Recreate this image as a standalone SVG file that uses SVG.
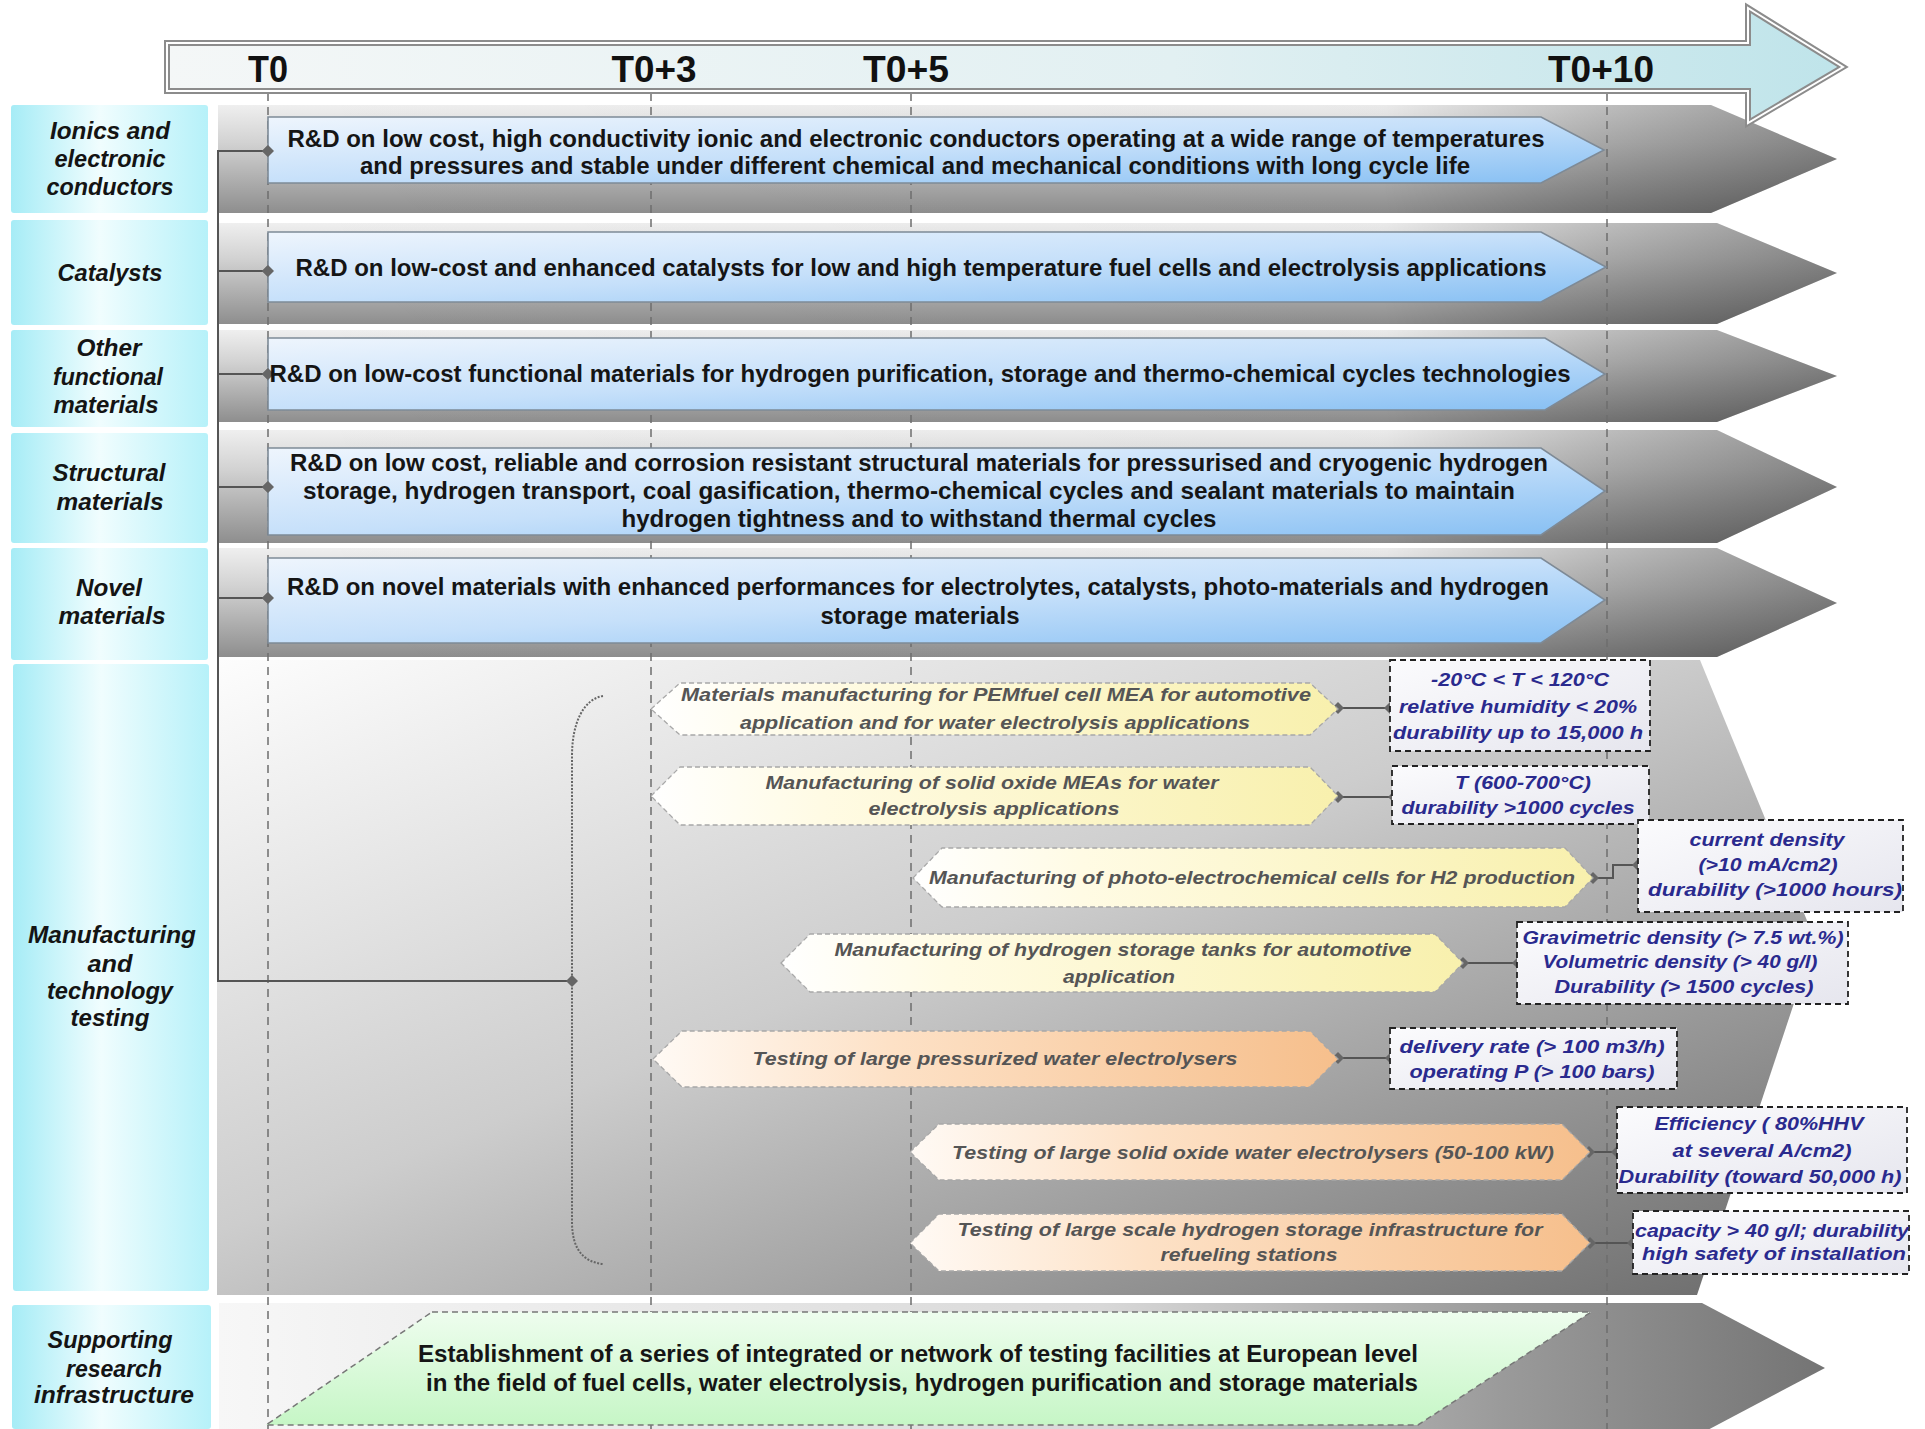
<svg xmlns="http://www.w3.org/2000/svg" width="1925" height="1429" viewBox="0 0 1925 1429">
<defs>
<linearGradient id="gTime" x1="0" y1="0" x2="1" y2="0">
<stop offset="0" stop-color="#f4f7f7"/><stop offset="0.6" stop-color="#e2f0f2"/><stop offset="1" stop-color="#bfe4ea"/>
</linearGradient>
<linearGradient id="gCyan" x1="0" y1="0" x2="1" y2="0">
<stop offset="0" stop-color="#a6ecf6"/><stop offset="0.45" stop-color="#f0fdfe"/><stop offset="1" stop-color="#b6f1f9"/>
</linearGradient>
<linearGradient id="gRow" x1="0" y1="0" x2="0" y2="1">
<stop offset="0" stop-color="#efefef"/><stop offset="0.35" stop-color="#d2d2d2"/><stop offset="1" stop-color="#8e8e8e"/>
</linearGradient>
<linearGradient id="gShade" x1="0" y1="0" x2="1" y2="0">
<stop offset="0" stop-color="#000" stop-opacity="0"/><stop offset="0.72" stop-color="#000" stop-opacity="0.02"/><stop offset="0.85" stop-color="#000" stop-opacity="0.2"/><stop offset="1" stop-color="#000" stop-opacity="0.38"/>
</linearGradient>
<linearGradient id="gBlue" x1="0" y1="0" x2="1" y2="1">
<stop offset="0" stop-color="#eef5fd"/><stop offset="0.5" stop-color="#c6e0fa"/><stop offset="1" stop-color="#86bff3"/>
</linearGradient>
<linearGradient id="gMan" x1="0" y1="0" x2="1" y2="1">
<stop offset="0" stop-color="#fdfdfd"/><stop offset="0.45" stop-color="#cdcdcd"/><stop offset="1" stop-color="#6a6a6a"/>
</linearGradient>
<linearGradient id="gSup" x1="0" y1="0" x2="1" y2="0">
<stop offset="0" stop-color="#f7f7f7"/><stop offset="0.55" stop-color="#d8d8d8"/><stop offset="0.8" stop-color="#9a9a9a"/><stop offset="1" stop-color="#747474"/>
</linearGradient>
<linearGradient id="gYel" x1="0" y1="0" x2="1" y2="0">
<stop offset="0" stop-color="#ffffff"/><stop offset="0.25" stop-color="#fffbe4"/><stop offset="1" stop-color="#f8f0ad"/>
</linearGradient>
<linearGradient id="gOrg" x1="0" y1="0" x2="1" y2="0">
<stop offset="0" stop-color="#fffaf5"/><stop offset="0.35" stop-color="#fde1c6"/><stop offset="1" stop-color="#f6bf8c"/>
</linearGradient>
<linearGradient id="gGreen" x1="0" y1="0" x2="0" y2="1">
<stop offset="0" stop-color="#eefdee"/><stop offset="1" stop-color="#c6f6c6"/>
</linearGradient>
<linearGradient id="gSpec" x1="0" y1="0" x2="1" y2="1">
<stop offset="0" stop-color="#fbfbfd"/><stop offset="1" stop-color="#e6e6ee"/>
</linearGradient>
<marker id="dia" viewBox="0 0 12 12" refX="6" refY="6" markerWidth="12" markerHeight="12" markerUnits="userSpaceOnUse">
<path d="M6,0 L12,6 L6,12 L0,6 Z" fill="#666"/>
</marker>
<style>
.lbl{font-family:"Liberation Sans Narrow","Liberation Sans",Arial,sans-serif;font-style:italic;font-weight:bold;font-size:23px;fill:#141414;text-anchor:middle}
.tl{font-family:"Liberation Sans Narrow","Liberation Sans",Arial,sans-serif;font-weight:bold;font-size:37px;fill:#111;text-anchor:middle}
.rd{font-family:"Liberation Sans Narrow","Liberation Sans",Arial,sans-serif;font-weight:bold;font-size:24px;fill:#151515;text-anchor:middle}
.sub{font-family:"Liberation Sans","Arial",sans-serif;font-style:italic;font-weight:bold;font-size:19px;fill:#555;text-anchor:middle}
.spec{font-family:"Liberation Sans","Arial",sans-serif;font-style:italic;font-weight:bold;font-size:19px;fill:#2a2a8e;text-anchor:middle}
.cyan{fill:url(#gCyan)}
.band{fill:url(#gRow)}
.shade{fill:url(#gShade)}
.blue{fill:url(#gBlue);stroke:#7e8a96;stroke-width:1.6}
.yel{fill:url(#gYel);stroke:#a8a8a8;stroke-width:1.3;stroke-dasharray:5 3}
.org{fill:url(#gOrg);stroke:#a8a8a8;stroke-width:1.3;stroke-dasharray:5 3}
.box{fill:url(#gSpec);stroke:#222;stroke-width:1.8;stroke-dasharray:6 4}
.vd{stroke:#6e6e6e;stroke-width:1.5;stroke-dasharray:8 6;fill:none}
.cn{stroke:#555;stroke-width:2;fill:none}
.cnd{stroke:#555;stroke-width:2;fill:none;marker-start:url(#dia);marker-end:url(#dia)}
</style>
</defs>
<rect width="1925" height="1429" fill="#ffffff"/>

<!-- left label column -->
<g id="labels">
<rect class="cyan" x="11" y="105" width="197" height="108" rx="3"/>
<rect class="cyan" x="11" y="220" width="197" height="105" rx="3"/>
<rect class="cyan" x="11" y="330" width="197" height="97" rx="3"/>
<rect class="cyan" x="11" y="433" width="197" height="110" rx="3"/>
<rect class="cyan" x="11" y="548" width="197" height="112" rx="3"/>
<rect class="cyan" x="13" y="664" width="196" height="627" rx="3"/>
<rect class="cyan" x="12" y="1305" width="199" height="124" rx="3"/>
</g>

<!-- row bands -->
<g id="bands">
<path class="band" d="M218,105 H1711 L1837,159 L1711,213 H218 Z"/>
<path class="shade" d="M218,105 H1711 L1837,159 L1711,213 H218 Z"/>
<path class="band" d="M218,223 H1717 L1837,273 L1717,324 H218 Z"/>
<path class="shade" d="M218,223 H1717 L1837,273 L1717,324 H218 Z"/>
<path class="band" d="M218,330 H1717 L1837,376 L1717,422 H218 Z"/>
<path class="shade" d="M218,330 H1717 L1837,376 L1717,422 H218 Z"/>
<path class="band" d="M218,430 H1717 L1837,487 L1717,543 H218 Z"/>
<path class="shade" d="M218,430 H1717 L1837,487 L1717,543 H218 Z"/>
<path class="band" d="M218,548 H1717 L1837,603 L1717,657 H218 Z"/>
<path class="shade" d="M218,548 H1717 L1837,603 L1717,657 H218 Z"/>
<path fill="url(#gMan)" d="M217,660 H1700 L1815,940 L1697,1295 H217 Z"/>
<path fill="url(#gSup)" d="M219,1303 H1702 L1825,1368 L1702,1433 H219 Z"/>
</g>

<!-- timeline grid -->
<g id="grid">
<line class="vd" x1="268" y1="93" x2="268" y2="1429"/>
<line class="vd" x1="651" y1="93" x2="651" y2="1429"/>
<line class="vd" x1="911" y1="93" x2="911" y2="1429"/>
<line class="vd" x1="1607" y1="93" x2="1607" y2="1429"/>
</g>

<!-- timeline arrow -->
<g id="timeline">
<path d="M167,43 H1748 V8 L1843,67 L1748,123 V91 H167 Z" fill="url(#gTime)" stroke="#8c8c8c" stroke-width="6" stroke-linejoin="miter"/>
<path d="M167,43 H1748 V8 L1843,67 L1748,123 V91 H167 Z" fill="none" stroke="#ffffff" stroke-width="2"/>
<text class="tl" x="268" y="82" textLength="40" lengthAdjust="spacingAndGlyphs">T0</text>
<text class="tl" x="654" y="82" textLength="85" lengthAdjust="spacingAndGlyphs">T0+3</text>
<text class="tl" x="906" y="82" textLength="86" lengthAdjust="spacingAndGlyphs">T0+5</text>
<text class="tl" x="1601" y="82" textLength="106" lengthAdjust="spacingAndGlyphs">T0+10</text>
</g>

<!-- connectors -->
<g id="connectors">
<path class="cn" d="M268,151 H218 V981 H572"/>
<path class="cn" d="M218,271 H268"/>
<path class="cn" d="M218,374 H268"/>
<path class="cn" d="M218,487 H268"/>
<path class="cn" d="M218,598 H268"/>
<path d="M603,696 C584,699 572,722 572,756 V1222 C572,1250 584,1262 603,1264" fill="none" stroke="#666" stroke-width="2" stroke-dasharray="2 1.5"/>
<path class="cnd" d="M1338,708 H1390"/>
<path class="cnd" d="M1338,797 H1394"/>
<path class="cnd" d="M1593,878 H1613 V865 H1638"/>
<path class="cnd" d="M1463,963 H1518"/>
<path class="cnd" d="M1338,1058 H1391"/>
<path class="cnd" d="M1589,1152 H1617"/>
<path class="cnd" d="M1590,1243 H1633"/>
<g fill="#666">
<path d="M268,145 L274,151 L268,157 L262,151 Z"/>
<path d="M268,265 L274,271 L268,277 L262,271 Z"/>
<path d="M268,368 L274,374 L268,380 L262,374 Z"/>
<path d="M268,481 L274,487 L268,493 L262,487 Z"/>
<path d="M268,592 L274,598 L268,604 L262,598 Z"/>
<path d="M572,975 L578,981 L572,987 L566,981 Z"/>
</g>
</g>

<!-- R&D nodes -->
<g id="node-ionics">
<path class="blue" d="M268,117 H1541 L1604,150 L1541,183 H268 Z"/>
<path fill="#666" d="M268,145 L274,151 L268,157 L262,151 Z"/>
<text class="rd" x="916" y="147" textLength="1257" lengthAdjust="spacingAndGlyphs">R&amp;D on low cost, high conductivity ionic and electronic conductors operating at a wide range of temperatures</text>
<text class="rd" x="915" y="174" textLength="1110" lengthAdjust="spacingAndGlyphs">and pressures and stable under different chemical and mechanical conditions with long cycle life</text>
<text class="lbl" x="110" y="139" textLength="120" lengthAdjust="spacingAndGlyphs">Ionics and</text>
<text class="lbl" x="110" y="167" textLength="111" lengthAdjust="spacingAndGlyphs">electronic</text>
<text class="lbl" x="110" y="195" textLength="127" lengthAdjust="spacingAndGlyphs">conductors</text>
</g>
<g id="node-catalysts">
<path class="blue" d="M268,232 H1541 L1606,267 L1541,302 H268 Z"/>
<path fill="#666" d="M268,265 L274,271 L268,277 L262,271 Z"/>
<text class="rd" x="921" y="276" textLength="1251" lengthAdjust="spacingAndGlyphs">R&amp;D on low-cost and enhanced catalysts for low and high temperature fuel cells and electrolysis applications</text>
<text class="lbl" x="110" y="281" textLength="105" lengthAdjust="spacingAndGlyphs">Catalysts</text>
</g>
<g id="node-functional">
<path class="blue" d="M268,338 H1545 L1605,374 L1545,410 H268 Z"/>
<path fill="#666" d="M268,368 L274,374 L268,380 L262,374 Z"/>
<text class="rd" x="920" y="382" textLength="1301" lengthAdjust="spacingAndGlyphs">R&amp;D on low-cost functional materials for hydrogen purification, storage and thermo-chemical cycles technologies</text>
<text class="lbl" x="109" y="356" textLength="65" lengthAdjust="spacingAndGlyphs">Other</text>
<text class="lbl" x="108" y="385" textLength="110" lengthAdjust="spacingAndGlyphs">functional</text>
<text class="lbl" x="106" y="413" textLength="105" lengthAdjust="spacingAndGlyphs">materials</text>
</g>
<g id="node-structural">
<path class="blue" d="M268,448 H1541 L1605,491 L1541,535 H268 Z"/>
<path fill="#666" d="M268,481 L274,487 L268,493 L262,487 Z"/>
<text class="rd" x="919" y="471" textLength="1258" lengthAdjust="spacingAndGlyphs">R&amp;D on low cost, reliable and corrosion resistant structural materials for pressurised and cryogenic hydrogen</text>
<text class="rd" x="909" y="499" textLength="1212" lengthAdjust="spacingAndGlyphs">storage, hydrogen transport, coal gasification, thermo-chemical cycles and sealant materials to maintain</text>
<text class="rd" x="919" y="527" textLength="595" lengthAdjust="spacingAndGlyphs">hydrogen tightness and to withstand thermal cycles</text>
<text class="lbl" x="109" y="481" textLength="113" lengthAdjust="spacingAndGlyphs">Structural</text>
<text class="lbl" x="110" y="510" textLength="107" lengthAdjust="spacingAndGlyphs">materials</text>
</g>
<g id="node-novel">
<path class="blue" d="M268,558 H1541 L1605,600 L1541,643 H268 Z"/>
<path fill="#666" d="M268,592 L274,598 L268,604 L262,598 Z"/>
<text class="rd" x="918" y="595" textLength="1262" lengthAdjust="spacingAndGlyphs">R&amp;D on novel materials with enhanced performances for electrolytes, catalysts, photo-materials and hydrogen</text>
<text class="rd" x="920" y="624" textLength="199" lengthAdjust="spacingAndGlyphs">storage materials</text>
<text class="lbl" x="109" y="596" textLength="66" lengthAdjust="spacingAndGlyphs">Novel</text>
<text class="lbl" x="112" y="624" textLength="107" lengthAdjust="spacingAndGlyphs">materials</text>
</g>

<!-- manufacturing -->
<g id="node-manufacturing">
<text class="lbl" x="112" y="943" textLength="168" lengthAdjust="spacingAndGlyphs">Manufacturing</text>
<text class="lbl" x="110" y="972" textLength="45" lengthAdjust="spacingAndGlyphs">and</text>
<text class="lbl" x="110" y="999" textLength="126" lengthAdjust="spacingAndGlyphs">technology</text>
<text class="lbl" x="110" y="1026" textLength="79" lengthAdjust="spacingAndGlyphs">testing</text>
</g>
<g id="node-pem">
<path class="yel" d="M651,709 L680,683 H1310 L1338,709 L1310,735 H680 Z"/>
<text class="sub" x="996" y="701" textLength="630" lengthAdjust="spacingAndGlyphs">Materials manufacturing for PEMfuel cell MEA for automotive</text>
<text class="sub" x="995" y="729" textLength="510" lengthAdjust="spacingAndGlyphs">application and for water electrolysis applications</text>
</g>
<g id="node-soe">
<path class="yel" d="M651,796 L680,767 H1310 L1338,796 L1310,825 H680 Z"/>
<text class="sub" x="992" y="789" textLength="453" lengthAdjust="spacingAndGlyphs">Manufacturing of solid oxide MEAs for water</text>
<text class="sub" x="994" y="815" textLength="251" lengthAdjust="spacingAndGlyphs">electrolysis applications</text>
</g>
<g id="node-photo">
<path class="yel" d="M913,878 L942,848 H1565 L1593,878 L1565,907 H942 Z"/>
<text class="sub" x="1252" y="884" textLength="646" lengthAdjust="spacingAndGlyphs">Manufacturing of photo-electrochemical cells for H2 production</text>
</g>
<g id="node-tanks">
<path class="yel" d="M781,963 L810,934 H1435 L1463,963 L1435,992 H810 Z"/>
<text class="sub" x="1123" y="956" textLength="577" lengthAdjust="spacingAndGlyphs">Manufacturing of hydrogen storage tanks for automotive</text>
<text class="sub" x="1119" y="983" textLength="112" lengthAdjust="spacingAndGlyphs">application</text>
</g>
<g id="node-pressurized">
<path class="org" d="M653,1059 L682,1031 H1310 L1338,1059 L1310,1087 H682 Z"/>
<text class="sub" x="995" y="1065" textLength="485" lengthAdjust="spacingAndGlyphs">Testing of large pressurized water electrolysers</text>
</g>
<g id="node-solidoxide">
<path class="org" d="M910,1152 L939,1124 H1562 L1590,1152 L1562,1180 H939 Z"/>
<text class="sub" x="1253" y="1159" textLength="602" lengthAdjust="spacingAndGlyphs">Testing of large solid oxide water electrolysers (50-100 kW)</text>
</g>
<g id="node-infra">
<path class="org" d="M910,1243 L939,1214 H1562 L1590,1243 L1562,1271 H939 Z"/>
<text class="sub" x="1250" y="1236" textLength="585" lengthAdjust="spacingAndGlyphs">Testing of large scale hydrogen storage infrastructure for</text>
<text class="sub" x="1249" y="1261" textLength="177" lengthAdjust="spacingAndGlyphs">refueling stations</text>
</g>

<!-- spec boxes -->
<g id="spec-pem">
<rect class="box" x="1390" y="660" width="260" height="91"/>
<text class="spec" x="1520" y="686" textLength="178" lengthAdjust="spacingAndGlyphs">-20°C &lt; T &lt; 120°C</text>
<text class="spec" x="1518" y="713" textLength="238" lengthAdjust="spacingAndGlyphs">relative humidity &lt; 20%</text>
<text class="spec" x="1518" y="739" textLength="250" lengthAdjust="spacingAndGlyphs">durability up to 15,000 h</text>
</g>
<g id="spec-soe">
<rect class="box" x="1392" y="766" width="257" height="58"/>
<text class="spec" x="1523" y="789" textLength="136" lengthAdjust="spacingAndGlyphs">T (600-700°C)</text>
<text class="spec" x="1518" y="814" textLength="233" lengthAdjust="spacingAndGlyphs">durability &gt;1000 cycles</text>
</g>
<g id="spec-photo">
<rect class="box" x="1638" y="820" width="265" height="92"/>
<text class="spec" x="1767" y="846" textLength="155" lengthAdjust="spacingAndGlyphs">current density</text>
<text class="spec" x="1768" y="871" textLength="139" lengthAdjust="spacingAndGlyphs">(&gt;10 mA/cm2)</text>
<text class="spec" x="1775" y="896" textLength="254" lengthAdjust="spacingAndGlyphs">durability (&gt;1000 hours)</text>
</g>
<g id="spec-tanks">
<rect class="box" x="1517" y="922" width="331" height="82"/>
<text class="spec" x="1683" y="944" textLength="321" lengthAdjust="spacingAndGlyphs">Gravimetric density (&gt; 7.5 wt.%)</text>
<text class="spec" x="1680" y="968" textLength="275" lengthAdjust="spacingAndGlyphs">Volumetric density (&gt; 40 g/l)</text>
<text class="spec" x="1684" y="993" textLength="259" lengthAdjust="spacingAndGlyphs">Durability (&gt; 1500 cycles)</text>
</g>
<g id="spec-pressurized">
<rect class="box" x="1390" y="1028" width="287" height="61"/>
<text class="spec" x="1532" y="1053" textLength="265" lengthAdjust="spacingAndGlyphs">delivery rate (&gt; 100 m3/h)</text>
<text class="spec" x="1532" y="1078" textLength="245" lengthAdjust="spacingAndGlyphs">operating P (&gt; 100 bars)</text>
</g>
<g id="spec-solidoxide">
<rect class="box" x="1617" y="1107" width="290" height="86"/>
<text class="spec" x="1759" y="1130" textLength="209" lengthAdjust="spacingAndGlyphs">Efficiency ( 80%HHV</text>
<text class="spec" x="1762" y="1157" textLength="179" lengthAdjust="spacingAndGlyphs">at several A/cm2)</text>
<text class="spec" x="1760" y="1183" textLength="283" lengthAdjust="spacingAndGlyphs">Durability (toward 50,000 h)</text>
</g>
<g id="spec-infra">
<rect class="box" x="1633" y="1211" width="276" height="63"/>
<text class="spec" x="1772" y="1237" textLength="274" lengthAdjust="spacingAndGlyphs">capacity &gt; 40 g/l; durability</text>
<text class="spec" x="1774" y="1260" textLength="264" lengthAdjust="spacingAndGlyphs">high safety of installation</text>
</g>

<!-- supporting infrastructure -->
<g id="node-supporting">
<path d="M432,1312 H1591 L1418,1425 H266 Z" fill="url(#gGreen)" stroke="#777" stroke-width="1.5" stroke-dasharray="6 4"/>
<text class="rd" x="918" y="1362" textLength="1000" lengthAdjust="spacingAndGlyphs">Establishment of a series of integrated or network of testing facilities at European level</text>
<text class="rd" x="922" y="1391" textLength="992" lengthAdjust="spacingAndGlyphs">in the field of fuel cells, water electrolysis, hydrogen purification and storage materials</text>
<text class="lbl" x="110" y="1348" textLength="125" lengthAdjust="spacingAndGlyphs">Supporting</text>
<text class="lbl" x="114" y="1377" textLength="96" lengthAdjust="spacingAndGlyphs">research</text>
<text class="lbl" x="114" y="1403" textLength="160" lengthAdjust="spacingAndGlyphs">infrastructure</text>
</g>
</svg>
